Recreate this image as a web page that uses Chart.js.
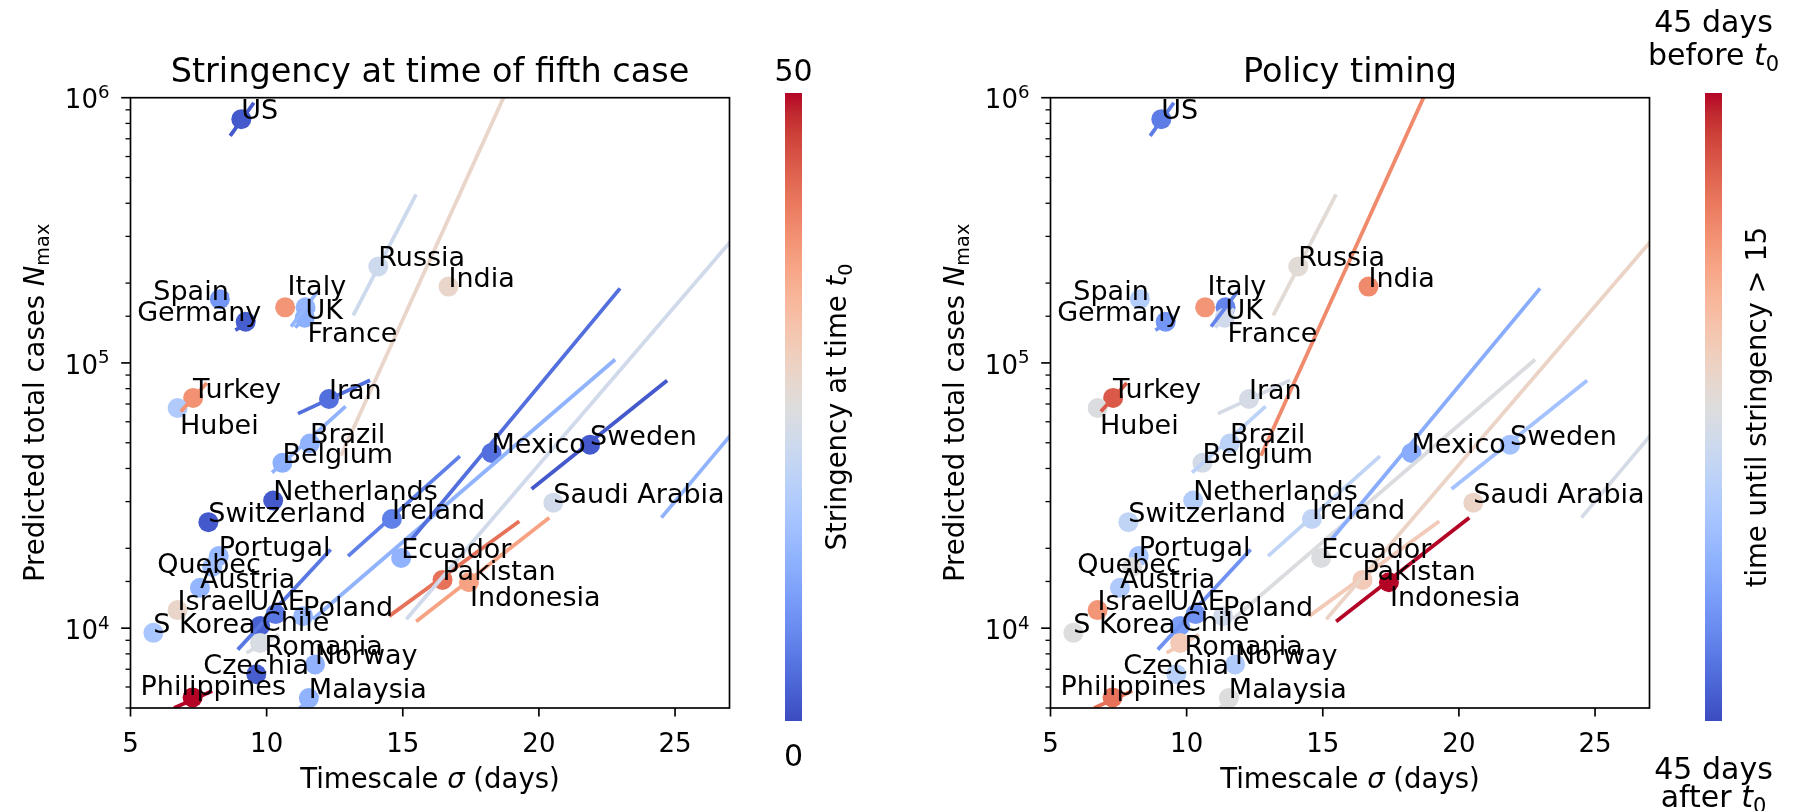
<!DOCTYPE html>
<html><head><meta charset="utf-8">
<script src="https://cdn.jsdelivr.net/npm/chart.js@4.4.1/dist/chart.umd.min.js"></script>
<style>
html,body{margin:0;padding:0;background:#fff;}
#wrap{position:relative;width:1801px;height:811px;overflow:hidden;background:#fff;}
canvas{position:absolute;top:0;}
</style></head><body>
<div id="wrap">
<canvas id="c1" width="900" height="811" style="left:0px;width:900px;height:811px"></canvas>
<canvas id="c2" width="901" height="811" style="left:900px;width:901px;height:811px"></canvas>
</div>
<script>
// ---------------- DATA ----------------
const countries = ['US','Spain','Germany','Italy','UK','France','Russia','India','Turkey','Hubei','Iran','Brazil','Belgium','Netherlands','Switzerland','Ireland','Portugal','Quebec','Austria','Israel','UAE','S Korea','Chile','Poland','Romania','Czechia','Norway','Philippines','Malaysia','Mexico','Sweden','Saudi Arabia','Ecuador','Pakistan','Indonesia','Other'];
const sigma = [9.07,8.28,9.23,10.68,11.43,11.40,14.10,16.68,7.30,6.73,12.29,11.59,10.58,10.24,7.86,14.60,8.24,8.00,7.55,6.73,10.33,5.84,9.76,11.34,9.76,9.62,11.78,7.28,11.55,18.26,21.88,20.53,14.94,16.46,17.43,29.5];
const nMax = [830000,174000,143000,162000,162000,148000,231000,194000,73800,67600,73100,49700,42000,30300,25100,25800,18700,17000,14200,11700,11300,9600,10200,11100,8800,6700,7300,5480,5450,45800,49200,29700,18400,15200,14900,120000];
// stringency at time t0 (0..50)
const stringency = [1.5,9,2,38,13.5,12.5,22,27.5,38.5,17.5,4,13,12.5,1.5,1.5,6,14,15,13.5,27.5,5,16.5,2.5,14,24,2,13,50,13,4,1.5,22.5,13,42,36.5,13];
// days before t0 that stringency exceeded 15 (negative = after t0)
const timingDays = [-35,-12.6,-28.8,23.4,-33.3,-4.5,1.8,26,35,-1,-2.7,-10,-3.6,-12.6,-9,-9,-16,0,-13.5,23.4,-30,0,-27,-4.5,9,-11,-13.5,30.6,0,-23.4,-17,5.4,-1,9,45,-2.7];
// trend segments (sigma, N) start/end per country
const trendS0 = [8.66,8.0,8.85,null,10.9,11.05,13.18,12.73,6.85,null,11.15,10.2,null,null,null,12.99,null,null,null,null,8.94,null,null,null,9.26,null,null,6.6,11.2,15.32,19.73,15.13,11.7,14.5,15.49,24.5];
const trendN0 = [718000,166000,133000,null,137000,136000,151000,44700,65600,null,64400,38600,null,null,null,18700,null,null,null,null,8300,null,null,null,8070,null,null,5000,5000,21600,33500,10800,10800,11100,10600,26100];
const trendS1 = [9.53,8.6,9.57,null,11.87,11.75,15.49,19.0,7.8,null,13.8,12.9,null,null,null,17.1,null,null,null,null,12.35,null,null,null,10.45,null,null,8.0,11.9,22.98,24.71,27.2,22.8,19.28,20.38,28.0];
const trendN1 = [957000,183000,146000,null,186000,160000,432000,1170000,84000,null,86000,68600,null,null,null,44500,null,null,null,null,19800,null,null,null,9460,null,null,5800,5600,191000,85900,300000,103000,25300,26100,70000];
const xTicks = [5,10,15,20,25];
const xRange = [5,27];
const yRange = [5000,1000000];

// ---------------- LAYOUT (label offsets in px, not data) ----------------
const labelOffset = {
  'Spain':[-66.5,1],'Germany':[-108.5,-1],'Italy':[2.4,-12.3],'UK':[0,12],'France':[2.8,24.3],
  'Hubei':[2.4,26],'UAE':[-26,-4],'Quebec':[-55,6],'Romania':[4.5,11.7],'Czechia':[-53,0],
  'Philippines':[-52,-2],'Indonesia':[1,24],'Chile':[1.7,5]
};

const CW=[[59,76,192],[68,90,204],[77,104,215],[87,117,225],[98,130,234],[108,142,241],[119,154,247],[130,165,251],[141,176,254],[152,185,255],[163,194,255],[174,201,253],[184,208,249],[194,213,244],[204,217,238],[213,219,230],[221,221,221],[229,216,209],[236,211,197],[241,204,185],[245,196,173],[247,187,160],[247,177,148],[247,166,135],[244,154,123],[241,141,111],[236,127,99],[229,112,88],[222,96,77],[213,80,66],[203,62,56],[192,40,47],[180,4,38]];
function coolwarm(t){
  t=Math.max(0,Math.min(1,t)); const p=t*32; const i=Math.min(31,Math.floor(p)); const f=p-i;
  const a=CW[i],b=CW[i+1];
  return 'rgb('+Math.round(a[0]+(b[0]-a[0])*f)+','+Math.round(a[1]+(b[1]-a[1])*f)+','+Math.round(a[2]+(b[2]-a[2])*f)+')';
}
const FONT='"DejaVu Sans"';
function fnt(size,it){return (it?'italic ':'')+size+'px '+FONT;}
function drawRich(ctx,parts,x,y,align,size){
  const segs=parts.map(p=>{const o=p[1]||{};const s=(o.sub||o.sup)?size*0.7:size;ctx.font=fnt(s,o.it);return {t:p[0],o:o,s:s,w:ctx.measureText(p[0]).width};});
  const tot=segs.reduce((a,b)=>a+b.w,0);
  let cx = align==='center'? x-tot/2 : align==='right'? x-tot : x;
  ctx.textAlign='left'; ctx.textBaseline='alphabetic';
  for(const s of segs){
    ctx.font=fnt(s.s,s.o.it);
    const dy = s.o.sub? size*0.2 : s.o.sup? -size*0.39 : 0;
    ctx.fillText(s.t,cx,y+dy); cx+=s.w;
  }
}

function makePanel(canvasId,opt){
  const colors = opt.values.map(v=>coolwarm(opt.norm(v)));
  const datasets=[{
    type:'scatter',
    data: countries.map((c,i)=>({x:sigma[i],y:nMax[i]})),
    pointRadius:10, pointHoverRadius:10, pointBorderWidth:0,
    pointBackgroundColor:colors, pointBorderColor:colors,
    order:2, clip:0
  }];
  countries.forEach((c,i)=>{
    if(trendS0[i]===null) return;
    datasets.push({type:'line',data:[{x:trendS0[i],y:trendN0[i]},{x:trendS1[i],y:trendN1[i]}],
      borderColor:colors[i],borderWidth:3.8,pointRadius:0,pointHoverRadius:0,tension:0,fill:false,
      borderCapStyle:'butt',order:1,clip:0});
  });
  const deco={
    id:'deco'+canvasId,
    afterDraw(chart){
      const ctx=chart.ctx, ca=chart.chartArea, xs=chart.scales.x, ys=chart.scales.y;
      ctx.save();
      // point labels
      ctx.fillStyle='#000';
      ctx.font=fnt(27); ctx.textAlign='left'; ctx.textBaseline='alphabetic';
      countries.forEach((c,i)=>{
        if(sigma[i]<xRange[0]||sigma[i]>xRange[1]) return;
        const px=xs.getPixelForValue(sigma[i]), py=ys.getPixelForValue(nMax[i]);
        const off=labelOffset[c]||[0,0];
        ctx.fillText(c,px+off[0],py+off[1]);
      });
      // spines
      ctx.strokeStyle='#000'; ctx.lineWidth=1.67;
      ctx.strokeRect(ca.left,ca.top,ca.right-ca.left,ca.bottom-ca.top);
      // x ticks
      ctx.font=fnt(26); ctx.textAlign='center';
      xTicks.forEach(v=>{
        const px=xs.getPixelForValue(v);
        ctx.beginPath(); ctx.moveTo(px,ca.bottom); ctx.lineTo(px,ca.bottom+8.5); ctx.stroke();
        ctx.fillText(String(v),px,752);
      });
      // y ticks
      ys.ticks.forEach(t=>{
        const v=t.value; const lg=Math.log10(v); const major=Math.abs(lg-Math.round(lg))<1e-9;
        const py=ys.getPixelForValue(v);
        if(py<ca.top-0.5||py>ca.bottom+0.5) return;
        ctx.lineWidth=major?1.67:1.3;
        ctx.beginPath(); ctx.moveTo(ca.left,py); ctx.lineTo(ca.left-(major?9.3:5),py); ctx.stroke();
        if(major){ drawRich(ctx,[['10'],[String(Math.round(lg)),{sup:true}]],ca.left-21,py+10.6,'right',26); }
      });
      // axis labels
      const cx=(ca.left+ca.right)/2, cy=(ca.top+ca.bottom)/2;
      drawRich(ctx,[['Timescale '],['σ',{it:true}],[' (days)']],cx,788,'center',27.5);
      ctx.save(); ctx.translate(ca.left-86.8,cy); ctx.rotate(-Math.PI/2);
      drawRich(ctx,[['Predicted total cases '],['N',{it:true}],['max',{sub:true}]],0,0,'center',27.5);
      ctx.restore();
      // title
      drawRich(ctx,[[opt.title]],cx,82,'center',33.5);
      // colorbar
      const cb={x:opt.cbX,w:17,top:93,bottom:721};
      const g=ctx.createLinearGradient(0,cb.bottom,0,cb.top);
      CW.forEach((c,i)=>g.addColorStop(i/32,'rgb('+c[0]+','+c[1]+','+c[2]+')'));
      ctx.fillStyle=g; ctx.fillRect(cb.x,cb.top,cb.w,cb.bottom-cb.top);
      ctx.fillStyle='#000';
      const ccx=cb.x+cb.w/2;
      opt.cbTopText.forEach((line,k)=>drawRich(ctx,line,ccx,opt.cbTopY[k],'center',30));
      opt.cbBotText.forEach((line,k)=>drawRich(ctx,line,ccx,opt.cbBotY[k],'center',30));
      ctx.save(); ctx.translate(cb.x+cb.w+44,(cb.top+cb.bottom)/2); ctx.rotate(-Math.PI/2);
      drawRich(ctx,opt.cbLabel,0,0,'center',27.5);
      ctx.restore();
      ctx.restore();
    }
  };
  return new Chart(document.getElementById(canvasId),{
    type:'scatter',
    data:{datasets},
    options:{
      responsive:false, animation:false, devicePixelRatio:1,
      layout:{padding:opt.pad},
      plugins:{legend:{display:false},tooltip:{enabled:false},title:{display:false}},
      events:[],
      scales:{
        x:{type:'linear',min:xRange[0],max:xRange[1],display:false},
        y:{type:'logarithmic',min:yRange[0],max:yRange[1],display:false}
      }
    },
    plugins:[deco]
  });
}

makePanel('c1',{
  title:'Stringency at time of fifth case', values:stringency, norm:v=>v/50,
  pad:{left:130.5,right:170.5,top:97.7,bottom:103},
  cbX:785,
  cbTopText:[[['50']]], cbTopY:[81],
  cbBotText:[[['0']]], cbBotY:[766],
  cbLabel:[['Stringency at time '],['t',{it:true}],['0',{sub:true}]]
});
makePanel('c2',{
  title:'Policy timing', values:timingDays, norm:v=>(v+45)/90,
  pad:{left:150.5,right:151.5,top:97.7,bottom:103},
  cbX:805,
  cbTopText:[[['45 days']],[['before '],['t',{it:true}],['0',{sub:true}]]], cbTopY:[32,65],
  cbBotText:[[['45 days']],[['after '],['t',{it:true}],['0',{sub:true}]]], cbBotY:[779,807],
  cbLabel:[['time until stringency > 15']]
});
</script>
</body></html>
